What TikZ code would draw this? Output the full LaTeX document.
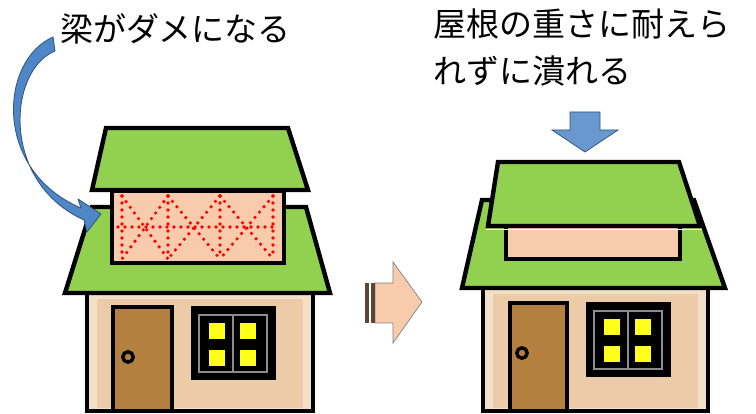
\documentclass[tikz,border=0pt]{standalone}
\usepackage{fontspec}
\newfontfamily\jpfont{Noto Sans CJK JP}
\begin{document}
\begin{tikzpicture}[x=1pt,y=-1pt,
  outline/.style={draw=black,line width=4.4pt,line join=miter},
  roof/.style={outline,fill=roofgreen},
  beamrect/.style={outline,fill=beampeach},
  wallbox/.style={outline,fill=wallpale},
  wallcore/.style={fill=walltan},
  doorbox/.style={outline,fill=doorbrown},
  knob/.style={draw=black,line width=3.4pt,fill=doorbrown},
  winframe/.style={draw=black,line width=5pt,fill=black},
  winline/.style={draw=wingray,line width=1.4pt},
  pane/.style={draw=black,line width=0.6pt,fill=paneyellow},
  redline/.style={draw=red,line width=3.6pt,line cap=round,dash pattern=on 0pt off 7pt},
  bluearrow/.style={fill=arrowblue,draw=arrowedge,line width=0.8pt,line join=round},
  peacharrow/.style={fill=beampeach,draw=gray,line width=0.7pt},
  label/.style={font=\jpfont\fontsize{33}{47}\selectfont,inner sep=0pt,align=left}]

\definecolor{roofgreen}{HTML}{92D050}
\definecolor{beampeach}{HTML}{F8CBAD}
\definecolor{wallpale}{HTML}{F4DFC9}
\definecolor{walltan}{HTML}{ECCBA8}
\definecolor{doorbrown}{HTML}{B3803F}
\definecolor{wingray}{HTML}{8C8C8C}
\definecolor{paneyellow}{HTML}{FFFF1A}
\definecolor{arrowblue}{HTML}{4F86C6}
\definecolor{arrowedge}{HTML}{2E5486}
\definecolor{stripebrown}{HTML}{5A4636}

\useasboundingbox (0,0) rectangle (756,414);
\fill[white] (0,0) rectangle (756,414);

% ---------- captions ----------
\node[label,anchor=west] (capL) at (60,29) {梁がダメになる};
\node[label,anchor=north west] (capR) at (433,9) {屋根の重さに耐えら\\れずに潰れる};

% ---------- house on the left: damaged beam ----------
\draw[wallbox] (87,293) rectangle (313,411);
\fill[wallcore] (97,299) rectangle (303,408);
\draw[roof] (65,293) -- (330,293) -- (306,207) -- (92,207) -- cycle;
\draw[beamrect] (112,191) rectangle (284,263);
% dotted truss showing the broken beam
\foreach \xa/\xb in {122/168,168/220,220/273}{
  \draw[redline] (\xa,196) -- (\xb,259);
  \draw[redline] (\xb,196) -- (\xa,259);
}
\foreach \xv in {122,168,220,273}{
  \draw[redline] (\xv,196) -- (\xv,259);
}
\draw[redline] (118,227) -- (278,227);
\draw[roof] (92,190) -- (308,190) -- (288,128) -- (106,128) -- cycle;
% door
\draw[doorbox] (113,307) rectangle (172,411);
\draw[knob] (128,357) circle (5.2);
% window
\draw[winframe] (193,309) rectangle (273,378);
\draw[winline] (199,315) rectangle (267,372);
\draw[winline] (233,315) -- (233,372);
\foreach \cx in {217,248}{\foreach \cy in {331,358}{
  \draw[pane] (\cx-8.5,\cy-8.5) rectangle (\cx+8.5,\cy+8.5);
}}

% ---------- house on the right: crushed ----------
\draw[wallbox] (483,288) rectangle (708,411);
\fill[wallcore] (493,294) rectangle (698,408);
\draw[roof] (462,288) -- (725,288) -- (694,200) -- (482,200) -- cycle;
\draw[beamrect] (506,226) rectangle (680,259);
\draw[white,line width=1.6pt] (486,229.5) -- (702,229.5);
\draw[roof] (488,226) -- (700,226) -- (679,162) -- (498,162) -- cycle;
% door
\draw[doorbox] (510,303) rectangle (567,411);
\draw[knob] (522,353) circle (5.2);
% window
\draw[winframe] (588,305) rectangle (668,375);
\draw[winline] (594,311) rectangle (662,369);
\draw[winline] (628,311) -- (628,369);
\foreach \cx in {612,643}{\foreach \cy in {327,354}{
  \draw[pane] (\cx-8.5,\cy-8.5) rectangle (\cx+8.5,\cy+8.5);
}}

% ---------- arrows ----------
% curved arrow from the left caption to the beam
\draw[bluearrow] (53,37) .. controls (0,60) and (-8,170) .. (81,208)
  -- (78,199) -- (101,214) -- (87,232) -- (84,220)
  .. controls (0,182) and (8,70) .. (55,51) -- cycle;
% load pressing down on the crushed roof
\draw[bluearrow,fill=arrowblue!85!white,line join=miter]
  (570,112) -- (600,112) -- (600,130) -- (618,130) -- (585,152)
  -- (552,130) -- (570,130) -- cycle;
% transition arrow between the two houses
\draw[peacharrow] (375,283) -- (393,283) -- (393,262) -- (422,302)
  -- (393,343) -- (393,323) -- (375,323) -- cycle;
\fill[stripebrown] (365,283) rectangle (369,323);
\fill[stripebrown] (371,283) rectangle (375,323);
\end{tikzpicture}
\end{document}
